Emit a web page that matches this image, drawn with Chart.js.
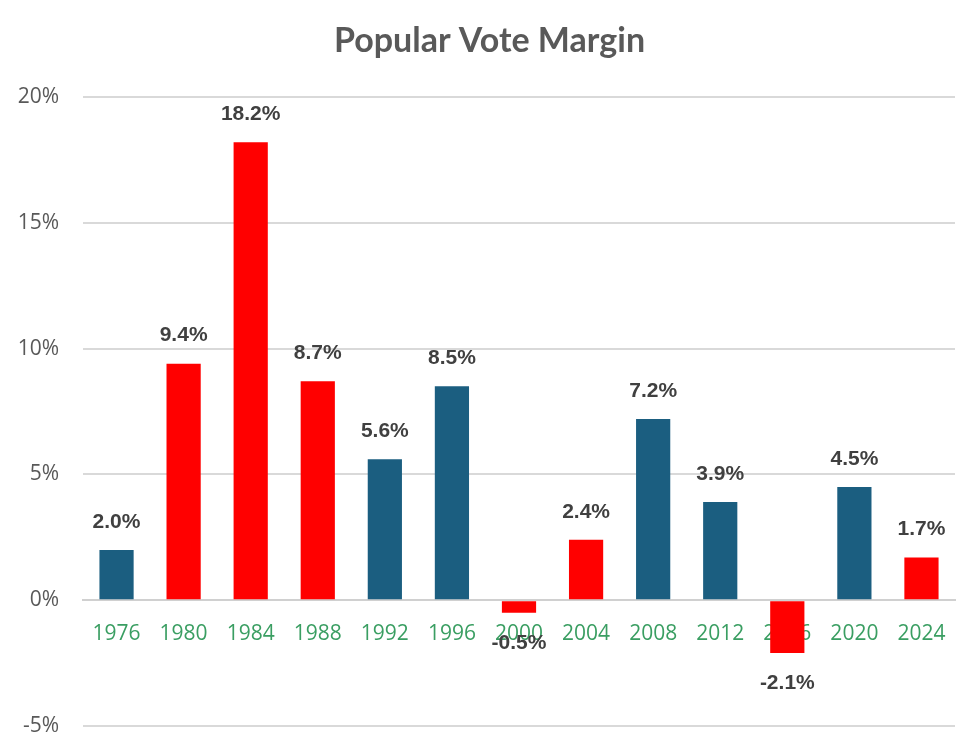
<!DOCTYPE html>
<html>
<head>
<meta charset="utf-8">
<script src="https://cdn.jsdelivr.net/npm/chart.js@4/dist/chart.umd.min.js"></script>
<style>
html,body{margin:0;padding:0;background:#fff;overflow:hidden;}
#wrap{width:975px;height:750px;}
</style>
</head>
<body>
<div id="wrap"><canvas id="c" width="975" height="750"></canvas></div>
<script>
const chartTitle = 'Popular Vote Margin';
const years = ['1976','1980','1984','1988','1992','1996','2000','2004','2008','2012','2016','2020','2024'];
const margins = [2.0, 9.4, 18.2, 8.7, 5.6, 8.5, -0.5, 2.4, 7.2, 3.9, -2.1, 4.5, 1.7];
const party = ['D','R','R','R','D','D','R','R','D','D','R','D','R'];
const yTicks = [-5, 0, 5, 10, 15, 20];

const BLUE = '#1b5e80';
const RED = '#ff0000';
const barColors = party.map(p => p === 'D' ? BLUE : RED);

const valueLabels = {
  id: 'valueLabels',
  afterDatasetsDraw(chart) {
    const ctx = chart.ctx;
    const meta = chart.getDatasetMeta(0);
    ctx.save();
    ctx.font = 'bold 21px "Liberation Sans", Arial, sans-serif';
    ctx.fillStyle = '#404040';
    ctx.textAlign = 'center';
    ctx.textBaseline = 'middle';
    meta.data.forEach((bar, i) => {
      const v = margins[i];
      const txt = v.toFixed(1) + '%';
      const y = v >= 0 ? bar.y - 28 : bar.y + 30;
      ctx.fillText(txt, bar.x, y);
    });
    ctx.restore();
  }
};

const titleDraw = {
  id: 'titleDraw',
  afterDraw(chart) {
    const ctx = chart.ctx;
    ctx.save();
    ctx.font = 'bold 34px Lato, "Open Sans", sans-serif';
    ctx.fillStyle = '#595959';
    ctx.textAlign = 'center';
    ctx.textBaseline = 'middle';
    ctx.fillText(chartTitle, chart.width / 2 + 2, 41);
    ctx.restore();
  }
};

new Chart(document.getElementById('c'), {
  type: 'bar',
  data: {
    labels: years,
    datasets: [{
      data: margins,
      backgroundColor: barColors,
      borderWidth: 0,
      barPercentage: 0.51,
      categoryPercentage: 1.0
    }]
  },
  options: {
    responsive: false,
    animation: false,
    devicePixelRatio: 1,
    layout: { padding: { left: 0, right: 20, top: 97, bottom: 24 } },
    plugins: {
      legend: { display: false },
      tooltip: { enabled: false },
      title: { display: false }
    },
    scales: {
      x: {
        position: { y: 0 },
        afterFit(scale) {
          scale.height = 0;
          scale.paddingLeft = 0; scale.paddingRight = 0;
          scale.paddingTop = 0; scale.paddingBottom = 0;
        },
        grid: { display: false, drawTicks: false },
        border: { display: true, color: '#d0d0d0', width: 2 },
        ticks: {
          color: '#3a9e62',
          font: { family: '"Open Sans", Arial, sans-serif', size: 21 },
          padding: 21
        }
      },
      y: {
        min: -5,
        max: 20,
        afterBuildTicks(scale) { scale.ticks = yTicks.map(v => ({ value: v })); },
        afterFit(scale) {
          scale.width = 83;
          scale.paddingTop = 0; scale.paddingBottom = 0;
          scale.paddingLeft = 0; scale.paddingRight = 0;
        },
        grid: { color: '#d9d9d9', lineWidth: 2, drawTicks: false },
        border: { display: false },
        ticks: {
          color: '#595959',
          font: { family: '"Open Sans", Arial, sans-serif', size: 21 },
          padding: 24,
          callback: v => v + '%'
        }
      }
    }
  },
  plugins: [valueLabels, titleDraw]
});
</script>
</body>
</html>
